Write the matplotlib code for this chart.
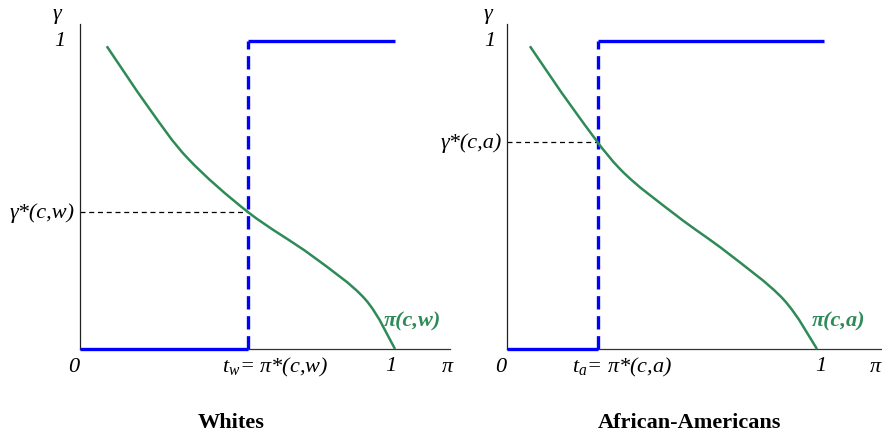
import matplotlib
matplotlib.use("Agg")
import matplotlib.pyplot as plt
from matplotlib.path import Path
from matplotlib.patches import PathPatch

plt.rcParams["mathtext.fontset"] = "custom"
plt.rcParams["mathtext.it"] = "Liberation Serif:italic"
plt.rcParams["mathtext.rm"] = "Liberation Serif"

SERIF = "Liberation Serif"
BLUE = "#0000ff"
GREEN = "#2e8b57"

# panel data (pi on x, gamma on y)
titles = ["Whites", "African-Americans"]
groups = ["w", "a"]
thresholds = [0.534, 0.294]
gamma_star = [0.444, 0.671]
step_end = [1.0, 1.023]

curve_x = [
    [0.085, 0.217, 0.344, 0.534, 0.736, 0.905, 1.0],
    [0.074, 0.214, 0.365, 0.547, 0.709, 0.891, 1.0],
]
curve_y = [
    [0.983, 0.785, 0.617, 0.444, 0.303, 0.162, 0.0],
    [0.983, 0.779, 0.584, 0.433, 0.314, 0.162, 0.0],
]


def smooth_path(xs, ys):
    # cubic bezier through the points (catmull-rom style handles)
    pts = list(zip(xs, ys))
    verts = [pts[0]]
    codes = [Path.MOVETO]
    n = len(pts)
    for i in range(n - 1):
        p0 = pts[max(i - 1, 0)]
        p1 = pts[i]
        p2 = pts[i + 1]
        p3 = pts[min(i + 2, n - 1)]
        c1 = (p1[0] + (p2[0] - p0[0]) / 6, p1[1] + (p2[1] - p0[1]) / 6)
        c2 = (p2[0] - (p3[0] - p1[0]) / 6, p2[1] - (p3[1] - p1[1]) / 6)
        verts += [c1, c2, p2]
        codes += [Path.CURVE4] * 3
    return Path(verts, codes)


fig = plt.figure(figsize=(8.82, 4.39), dpi=100)
axes = [
    fig.add_axes([80 / 882, 89 / 439, 370 / 882, 325 / 439]),
    fig.add_axes([507 / 882, 89 / 439, 375 / 882, 325 / 439]),
]
xmax = [370 / 315, 375 / 310]

# label positions in data units, per panel
gamma_x = [-0.073, -0.061]
one_y_x = [-0.063, -0.055]
one_x_x = [0.985, 1.013]
pi_x = [1.165, 1.187]
t_x = [0.619, 0.371]
curve_lbl_x = [1.057, 1.071]
title_x = [0.48, 0.59]

for k, ax in enumerate(axes):
    g = groups[k]
    t = thresholds[k]
    gs = gamma_star[k]
    ax.set_xlim(0, xmax[k])
    ax.set_ylim(0, 325 / 308)
    for side in ("top", "right"):
        ax.spines[side].set_visible(False)
    ax.spines["left"].set_color("#222222")
    ax.spines["bottom"].set_color("#333333")
    ax.spines["left"].set_linewidth(0.9)
    ax.spines["bottom"].set_linewidth(0.9)
    ax.set_xticks([])
    ax.set_yticks([])

    # threshold step function
    ax.plot([0, t], [0, 0], color=BLUE, lw=2.4, solid_capstyle="butt", clip_on=False, zorder=3)
    ax.plot([t, t], [0, 1], color=BLUE, lw=2.4, dashes=(4, 2), zorder=3)
    ax.plot([t, step_end[k]], [1, 1], color=BLUE, lw=2.4, solid_capstyle="butt", zorder=3)

    # reference line to the curve
    ax.plot([0, t], [gs, gs], color="black", lw=0.9, dashes=(4, 3), zorder=2)

    ax.add_patch(PathPatch(smooth_path(curve_x[k], curve_y[k]), fill=False,
                           edgecolor=GREEN, lw=1.8, zorder=4, clip_on=False))

    it = dict(family=SERIF, style="italic", fontsize=16, clip_on=False)
    ax.text(gamma_x[k], 1.09, "γ", ha="center", va="center", **it)
    ax.text(one_y_x[k], 1.0, "1", ha="center", va="center", **it)
    ax.text(-0.02, -0.058, "0", ha="center", va="center", **it)
    ax.text(one_x_x[k], -0.055, "1", ha="center", va="center", **it)
    ax.text(pi_x[k], -0.058, "π", ha="center", va="center", **it)
    ax.text(t_x[k], -0.058, "$t_%s$= π*(c,%s)" % (g, g), ha="center", va="center", **it)
    ax.text(-0.018, gs, "γ*(c,%s)" % g, ha="right", va="center", **it)
    ax.text(curve_lbl_x[k], 0.091, "π(c,%s)" % g, ha="center", va="center",
            family=SERIF, fontweight="bold", style="italic", fontsize=16, color=GREEN, clip_on=False)
    ax.text(title_x[k], -0.237, titles[k], ha="center", va="center",
            family=SERIF, fontweight="bold", fontsize=16, clip_on=False)

fig.savefig("out.png", dpi=100)
